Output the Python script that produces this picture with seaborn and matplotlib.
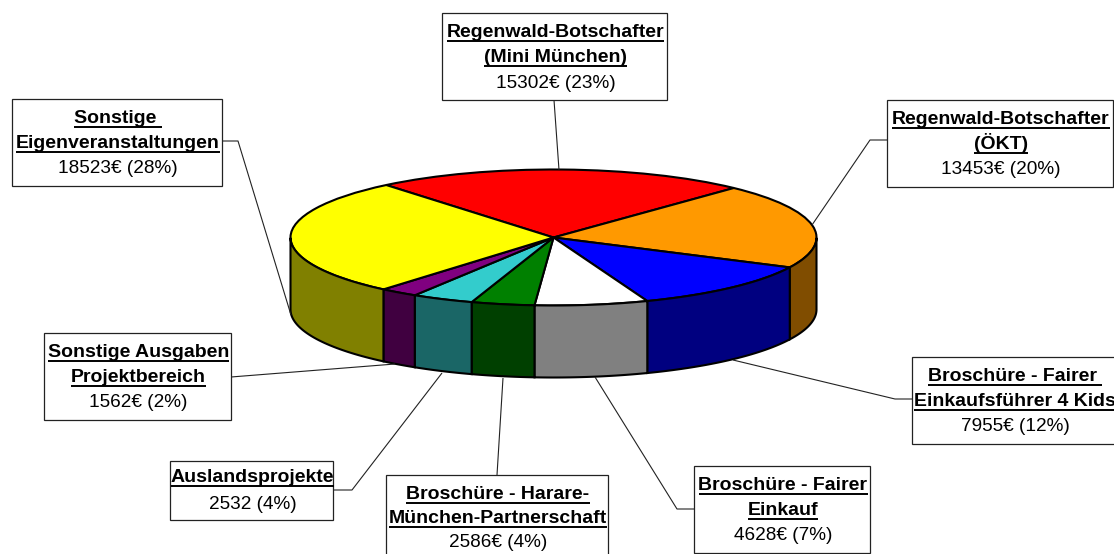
import numpy as np
import matplotlib
matplotlib.use("Agg")
import matplotlib.pyplot as plt
import seaborn as sns

# slices, clockwise from the top
title_lines = [
    ["Regenwald-Botschafter", "(Mini München)"],
    ["Regenwald-Botschafter", "(ÖKT)"],
    ["Broschüre - Fairer ", "Einkaufsführer 4 Kids"],
    ["Broschüre - Fairer", "Einkauf"],
    ["Broschüre - Harare-", "München-Partnerschaft"],
    ["Auslandsprojekte"],
    ["Sonstige Ausgaben", "Projektbereich"],
    ["Sonstige ", "Eigenveranstaltungen"],
]
values = [15302, 13453, 7955, 4628, 2586, 2532, 1562, 18523]
value_labels = ["15302€ (23%)", "13453€ (20%)", "7955€ (12%)", "4628€ (7%)",
                "2586€ (4%)", "2532 (4%)", "1562€ (2%)", "18523€ (28%)"]
top_colors = ["#ff0000", "#ff9900", "#0000ff", "#ffffff",
              "#008000", "#33cccc", "#800080", "#ffff00"]
side_colors = ["#800000", "#804d00", "#000080", "#808080",
               "#004000", "#1a6666", "#400040", "#808000"]

# layout in pixels of the picture
W, H = 1114, 554
cx, cy, rx, ry, depth = 553.5, 237.5, 263, 68, 72
start = 129.5
# box: left, top, right, bottom; text centre ys; leader polyline
boxes = [
    (442, 13, 667, 100),
    (887, 100, 1113, 187),
    (912, 357, 1116, 444),
    (694, 466, 870, 553),
    (386, 475, 608, 562),
    (170, 461, 333, 520),
    (44, 333, 231, 420),
    (12, 99, 222, 186),
]
text_ys = [
    (31, 56, 82), (118, 143, 168), (375, 400, 425), (484, 509, 534),
    (493, 517, 541), (476, 503), (351, 376, 401), (117, 142, 167),
]
leaders = [
    [(554, 100), (559, 170)],
    [(887, 140), (870, 140), (812, 225)],
    [(912, 399), (895, 399), (733, 360)],
    [(694, 509), (677, 509), (595, 377)],
    [(497, 475), (503, 378)],
    [(333, 490), (352, 490), (442, 373)],
    [(231, 377), (395, 364)],
    [(222, 141), (238, 141), (291, 315)],
]

sns.set_theme(style="white")
plt.rcParams["font.family"] = ["Liberation Sans", "DejaVu Sans"]

fig = plt.figure(figsize=(W / 100, H / 100), dpi=100)
ax = fig.add_axes([0, 0, 1, 1])

ax.pie(values, colors=top_colors, startangle=start, counterclock=False,
       wedgeprops=dict(edgecolor="black", linewidth=1.5))
ax.set_aspect("auto")
ax.set_xlim(-cx / rx, (W - cx) / rx)
ax.set_ylim((cy - H) / ry, cy / ry)

# side wall of the visible front half
drop = depth / ry
edges = start - 360 * np.cumsum([0] + values) / sum(values)
for a0, a1, col in zip(edges[:-1], edges[1:], side_colors):
    angs = np.linspace(a0, a1, 80)
    angs = angs[np.sin(np.radians(angs)) <= 0]
    if len(angs) == 0:
        continue
    x = np.cos(np.radians(angs))
    y = np.sin(np.radians(angs))
    ax.fill(np.r_[x, x[::-1]], np.r_[y, y[::-1] - drop],
            facecolor=col, edgecolor="black", linewidth=1.5, clip_on=False)

# boxes and leaders in a pixel-space overlay
ov = fig.add_axes([0, 0, 1, 1], facecolor="none")
ov.set_xlim(0, W)
ov.set_ylim(H, 0)
ov.axis("off")

for pts in leaders:
    xs, ys = zip(*pts)
    ov.plot(xs, ys, color="#222222", lw=0.8, solid_capstyle="butt", zorder=1)

renderer = fig.canvas.get_renderer()
for lines, val, box, ys in zip(title_lines, value_labels, boxes, text_ys):
    l, t, r, b = box
    ov.fill([l, r, r, l], [t, t, b, b], facecolor="white", edgecolor="#222222",
            linewidth=0.9, zorder=2)
    mid = (l + r) / 2 + 1
    for line, y in zip(lines, ys):
        txt = ov.text(mid, y + 6, line, ha="center", va="baseline", fontsize=14.0,
                      fontweight="bold", color="black", zorder=3)
        ext = txt.get_window_extent(renderer)
        ov.plot([ext.x0, ext.x1], [y + 9.5, y + 9.5], color="black", lw=1.4,
                solid_capstyle="butt", zorder=3)
    ov.text(mid, ys[-1] + 6, val, ha="center", va="baseline", fontsize=13.7,
            color="black", zorder=3)

fig.savefig("out.png", dpi=100)
